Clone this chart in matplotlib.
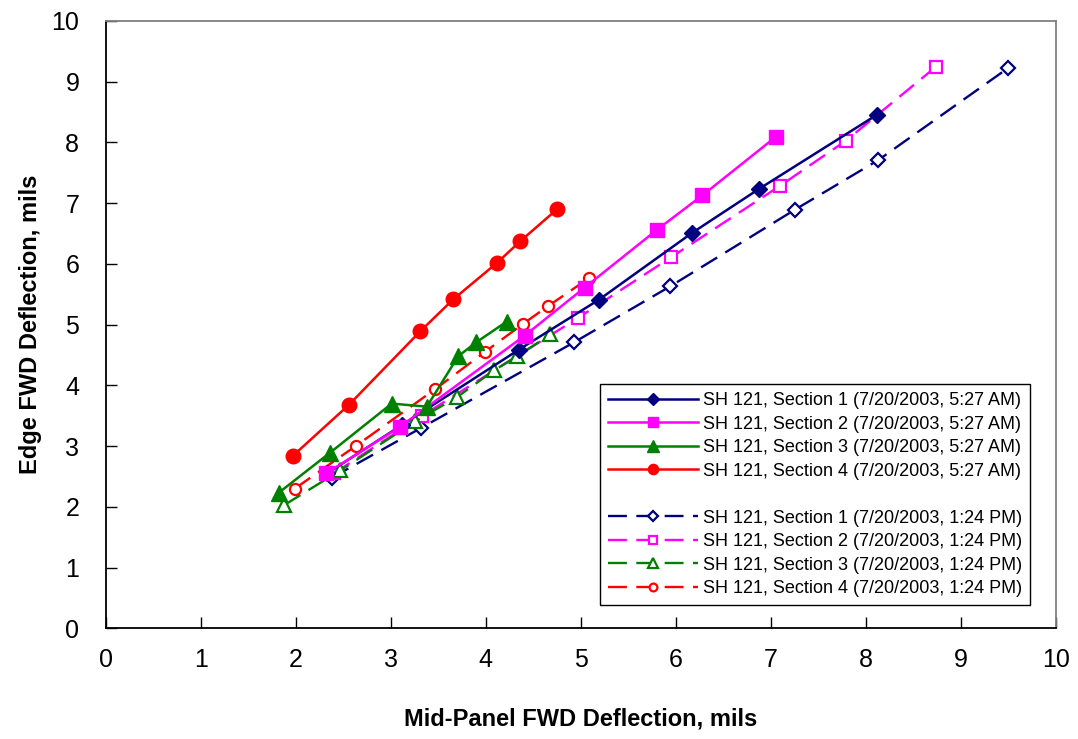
import matplotlib
matplotlib.use('Agg')
import matplotlib.pyplot as plt
from matplotlib.lines import Line2D

plt.rcParams['font.family'] = ['Liberation Sans', 'DejaVu Sans']

# AM runs (7/20/2003, 5:27 AM)
s1_am_x = [2.33, 3.12, 4.35, 5.19, 6.17, 6.87, 8.12]
s1_am_y = [2.55, 3.35, 4.59, 5.41, 6.51, 7.23, 8.46]
s2_am_x = [2.32, 3.10, 4.41, 5.04, 5.80, 6.28, 7.05]
s2_am_y = [2.55, 3.32, 4.82, 5.61, 6.56, 7.13, 8.09]
s3_am_x = [1.82, 2.36, 3.01, 3.38, 3.71, 3.90, 4.22]
s3_am_y = [2.23, 2.89, 3.70, 3.65, 4.48, 4.71, 5.05]
s4_am_x = [1.97, 2.56, 3.31, 3.66, 4.12, 4.36, 4.75]
s4_am_y = [2.84, 3.68, 4.89, 5.42, 6.02, 6.37, 6.90]

# PM runs (7/20/2003, 1:24 PM)
s1_pm_x = [2.38, 3.32, 4.93, 5.94, 7.25, 8.13, 9.50]
s1_pm_y = [2.48, 3.30, 4.71, 5.63, 6.89, 7.71, 9.23]
s2_pm_x = [2.40, 3.33, 4.97, 5.95, 7.10, 7.79, 8.74]
s2_pm_y = [2.55, 3.50, 5.11, 6.11, 7.29, 8.03, 9.25]
s3_pm_x = [1.88, 2.47, 3.26, 3.70, 4.09, 4.33, 4.68]
s3_pm_y = [2.03, 2.60, 3.41, 3.81, 4.25, 4.48, 4.84]
s4_pm_x = [1.99, 2.63, 3.47, 3.99, 4.39, 4.65, 5.09]
s4_pm_y = [2.30, 3.00, 3.94, 4.55, 5.01, 5.30, 5.77]

labels_am = ['SH 121, Section %d (7/20/2003, 5:27 AM)' % i for i in range(1, 5)]
labels_pm = ['SH 121, Section %d (7/20/2003, 1:24 PM)' % i for i in range(1, 5)]

colors = ['#000080', '#FF00FF', '#008000', '#FF0000']
markers = ['D', 's', '^', 'o']
am_sizes = [8.5, 10, 11.5, 10.5]
pm_sizes = [7.5, 8.5, 9.5, 8]

fig = plt.figure(figsize=(10.78, 7.39), dpi=100)
ax = fig.add_axes([0.098, 0.1498, 0.8816, 0.8218])

am = [(s1_am_x, s1_am_y), (s2_am_x, s2_am_y), (s3_am_x, s3_am_y), (s4_am_x, s4_am_y)]
pm = [(s1_pm_x, s1_pm_y), (s2_pm_x, s2_pm_y), (s3_pm_x, s3_pm_y), (s4_pm_x, s4_pm_y)]

handles = []
for i, (x, y) in enumerate(am):
    h, = ax.plot(x, y, '-', color=colors[i], marker=markers[i], markersize=am_sizes[i],
                 linewidth=1.8, label=labels_am[i], zorder=3)
    handles.append(h)

blank = Line2D([], [], linestyle='none', marker=None, label=' ')
handles.append(blank)

for i, (x, y) in enumerate(pm):
    h, = ax.plot(x, y, color=colors[i], marker=markers[i], markersize=pm_sizes[i],
                 markerfacecolor='white', markeredgewidth=1.6, linewidth=1.7,
                 dashes=(8, 4), label=labels_pm[i], zorder=2)
    handles.append(h)

ax.set_xlim(0, 10)
ax.set_ylim(0, 10)
ax.set_xticks(range(0, 11))
ax.set_yticks(range(0, 11))
ax.tick_params(direction='in', length=8, width=1, labelsize=18)
ax.tick_params(axis='y', pad=19)
ax.tick_params(axis='x', pad=14)

for side in ['left', 'bottom']:
    ax.spines[side].set_color('black')
    ax.spines[side].set_linewidth(1.3)
for side in ['top', 'right']:
    ax.spines[side].set_color('#808080')
    ax.spines[side].set_linewidth(1.3)

ax.set_xlabel('Mid-Panel FWD Deflection, mils', fontsize=17, fontweight='bold', labelpad=26)
ax.set_ylabel('Edge FWD Deflection, mils', fontsize=17, fontweight='bold', labelpad=7)

leg = ax.legend(handles=handles, loc='lower right', bbox_to_anchor=(0.9727, 0.038),
                borderaxespad=0, fontsize=13, handlelength=5.0, handletextpad=0.25,
                labelspacing=0.36, borderpad=0.45, fancybox=False, framealpha=1,
                edgecolor='black', markerscale=0.7)
leg.get_frame().set_linewidth(1.0)

fig.savefig('out.png', dpi=100)
